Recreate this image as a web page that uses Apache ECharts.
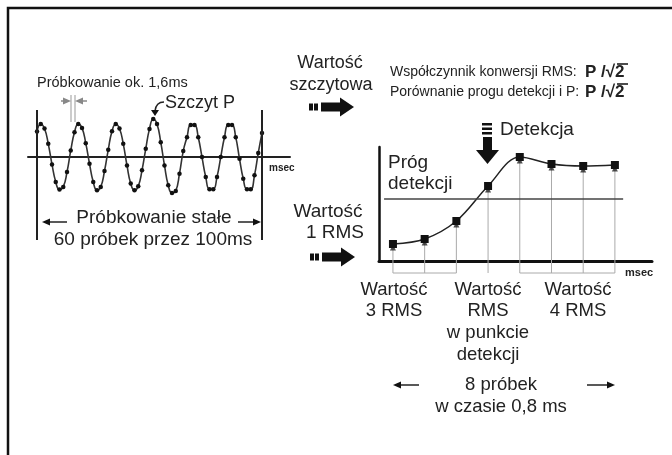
<!DOCTYPE html>
<html>
<head>
<meta charset="utf-8">
<script src="https://cdn.jsdelivr.net/npm/echarts@6/dist/echarts.min.js"></script>
<style>
html,body{margin:0;padding:0;background:#fff}
#main{width:672px;height:455px}
</style>
</head>
<body>
<div id="main"></div>
<script>
// sampled waveform, 60 samples over 100 ms (value relative to peak)
var waveSamples = [
  0.77, 1.0, 0.86, 0.4, -0.22, -0.75, -0.98, -0.9, -0.45, 0.2,
  0.75, 1.0, 0.88, 0.42, -0.2, -0.75, -1.0, -0.9, -0.42, 0.22,
  0.78, 1.0, 0.86, 0.4, -0.25, -0.8, -1.0, -0.88, -0.4, 0.25,
  0.85, 1.15, 1.0, 0.45, -0.25, -0.85, -1.08, -1.02, -0.5, 0.18,
  0.6, 0.97, 0.97, 0.6, 0.0, -0.6, -0.97, -0.97, -0.6, 0.0,
  0.6, 0.97, 0.97, 0.6, -0.05, -0.65, -0.97, -0.97, -0.55, 0.12,
  0.73
];
var sampleWindow = [0, 60];

// RMS values, 8 samples in 0.8 ms
var rmsIndex = [1, 2, 3, 4, 5, 6, 7, 8];
var rmsValues = [17, 22, 40, 75, 104, 97, 95, 96];
var detectLevel = 62;
var rmsGroups = [[1, 3], [5, 8]];
var dropTo = -12;

var FONT = '"Liberation Sans", Arial, sans-serif';
var INK = '#222';

function txt(s, x, y, size, align, bold) {
  return {
    type: 'text', x: x, y: y, silent: true,
    style: {
      text: s, fill: INK,
      font: (bold ? 'bold ' : '') + size + 'px ' + FONT,
      textAlign: align || 'left', textVerticalAlign: 'middle'
    }
  };
}
function ln(x1, y1, x2, y2, w, c) {
  return { type: 'line', silent: true, shape: { x1: x1, y1: y1, x2: x2, y2: y2 },
    style: { stroke: c || INK, lineWidth: w || 1 } };
}
function box(x, y, w, h) {
  return { type: 'rect', silent: true, shape: { x: x, y: y, width: w, height: h }, style: { fill: '#111' } };
}
function tri(pts, c) {
  return { type: 'polygon', silent: true, shape: { points: pts }, style: { fill: c || '#111' } };
}
// dashed fat arrow pointing right
function fatArrow(x, yc) {
  return [
    box(x, yc - 3.5, 4, 7), box(x + 5, yc - 3.5, 4, 7),
    box(x + 12, yc - 4.5, 20, 9),
    tri([[x + 31, yc - 9.5], [x + 45, yc], [x + 31, yc + 9.5]])
  ];
}
// thin arrow, head at x2
function thinArrow(x1, y, x2, c) {
  var d = x2 > x1 ? -1 : 1;
  return [ln(x1, y, x2 + d * 5, y, 1.5, c), tri([[x2, y], [x2 + d * 8, y - 3.5], [x2 + d * 8, y + 3.5]], c)];
}

var g = [];
// frame
g.push({ type: 'polyline', silent: true, shape: { points: [[8, 455], [8, 8], [672, 8]] },
  style: { stroke: '#111', lineWidth: 2.5, fill: null } });

// left block texts
g.push(txt('Próbkowanie ok. 1,6ms', 37, 83, 14.5));
g.push(txt('Szczyt P', 165, 103, 18));
g.push(txt('Próbkowanie stałe', 154, 218, 19, 'center'));
g.push(txt('60 próbek przez 100ms', 153, 240, 19, 'center'));
g.push(txt('msec', 269, 168, 10, 'left', true));
g = g.concat(thinArrow(67, 222, 42));
g = g.concat(thinArrow(238, 222, 261));
// sampling interval marker
g.push(ln(71, 95, 71, 122, 1, '#999'));
g.push(ln(75, 95, 75, 122, 1, '#999'));
g = g.concat(thinArrow(61, 101, 71, '#888'));
g = g.concat(thinArrow(87, 101, 75, '#888'));
// peak pointer
g.push({ type: 'bezierCurve', silent: true,
  shape: { x1: 164, y1: 102, cpx1: 156, cpy1: 102, x2: 155, y2: 111 },
  style: { stroke: INK, lineWidth: 1.5, fill: null } });
g.push(tri([[151, 110], [159, 110], [155, 116]]));

// top right texts
g.push(txt('Wartość', 330, 63, 18, 'center'));
g.push(txt('szczytowa', 331, 85, 18, 'center'));
g = g.concat(fatArrow(309, 107));
g.push(txt('Współczynnik konwersji RMS:', 390, 72, 14));
g.push(txt('Porównanie progu detekcji i P:', 390, 92, 14));
g.push(txt('P /√2', 585, 72, 17, 'left', true));
g.push(txt('P /√2', 585, 92, 17, 'left', true));
g.push(ln(617, 64, 628, 64, 1.5, '#111'));
g.push(ln(617, 84, 628, 84, 1.5, '#111'));

// detection arrow
g.push(box(482, 123, 10, 2.5));
g.push(box(482, 127.5, 10, 2.5));
g.push(box(482, 132, 10, 2.5));
g.push(box(483, 137, 9, 14));
g.push(tri([[476, 150], [499, 150], [487.5, 164]]));
g.push(txt('Detekcja', 500, 130, 19));

// right chart texts
g.push(txt('Próg', 388, 163, 19));
g.push(txt('detekcji', 388, 184, 19));
g.push(txt('Wartość', 328, 212, 19, 'center'));
g.push(txt('1 RMS', 335, 233, 19, 'center'));
g = g.concat(fatArrow(310, 257));
g.push(txt('msec', 625, 273, 11, 'left', true));

g.push(txt('Wartość', 394, 290, 18.5, 'center'));
g.push(txt('3 RMS', 394, 311, 18.5, 'center'));
g.push(txt('Wartość', 488, 290, 18.5, 'center'));
g.push(txt('RMS', 488, 311, 18.5, 'center'));
g.push(txt('w punkcie', 488, 333, 18.5, 'center'));
g.push(txt('detekcji', 488, 355, 18.5, 'center'));
g.push(txt('Wartość', 578, 290, 18.5, 'center'));
g.push(txt('4 RMS', 578, 311, 18.5, 'center'));
g.push(txt('8 próbek', 501, 385, 18.5, 'center'));
g.push(txt('w czasie 0,8 ms', 501, 407, 18.5, 'center'));
g = g.concat(thinArrow(419, 385, 393));
g = g.concat(thinArrow(587, 385, 615));

var hidden = { axisTick: { show: false }, axisLabel: { show: false }, splitLine: { show: false } };
function ax(o) { for (var k in hidden) o[k] = hidden[k]; return o; }

var myChart = echarts.init(document.getElementById('main'));
var option = {
  backgroundColor: '#ffffff',
  animation: false,
  grid: [
    { left: 28, top: 110, width: 262, height: 130 },
    { left: 379, top: 147, width: 273, height: 114 }
  ],
  xAxis: [
    ax({ gridIndex: 0, type: 'value', min: -2.4, max: 67.47,
      axisLine: { show: true, onZero: true, lineStyle: { color: '#222', width: 2 } } }),
    ax({ gridIndex: 1, type: 'value', min: 0.56, max: 9.17,
      axisLine: { show: true, onZero: false, lineStyle: { color: '#111', width: 3 } } })
  ],
  yAxis: [
    ax({ gridIndex: 0, type: 'value', min: -2.5, max: 1.42, axisLine: { show: false } }),
    ax({ gridIndex: 1, type: 'value', min: 0, max: 114,
      axisLine: { show: true, lineStyle: { color: '#111', width: 2.5 } } })
  ],
  series: [
    {
      type: 'line', xAxisIndex: 0, yAxisIndex: 0,
      data: waveSamples.map(function (v, i) { return [i, v]; }),
      smooth: 0.5, symbol: 'circle', symbolSize: 4.5, showSymbol: true,
      itemStyle: { color: '#111' }, lineStyle: { color: '#333', width: 1.6 },
      markLine: {
        silent: true, symbol: ['none', 'none'], label: { show: false },
        lineStyle: { color: '#222', width: 2, type: 'solid' },
        data: sampleWindow.map(function (v) { return { xAxis: v }; })
      }
    },
    {
      type: 'custom', xAxisIndex: 1, yAxisIndex: 1, clip: false, silent: true, z: 1,
      data: rmsIndex.map(function (x, i) { return [x, rmsValues[i]]; }),
      renderItem: function (params, api) {
        var a = api.coord([api.value(0), api.value(1)]);
        var b = api.coord([api.value(0), dropTo]);
        return { type: 'line', shape: { x1: a[0], y1: a[1], x2: b[0], y2: b[1] },
          style: { stroke: '#aaa', lineWidth: 1 } };
      }
    },
    {
      type: 'custom', xAxisIndex: 1, yAxisIndex: 1, clip: false, silent: true, z: 1,
      data: rmsGroups,
      renderItem: function (params, api) {
        var a = api.coord([api.value(0), dropTo]);
        var b = api.coord([api.value(1), dropTo]);
        return { type: 'line', shape: { x1: a[0], y1: a[1], x2: b[0], y2: b[1] },
          style: { stroke: '#aaa', lineWidth: 1 } };
      }
    },
    {
      type: 'scatter', xAxisIndex: 1, yAxisIndex: 1, z: 3,
      data: rmsIndex.map(function (x, i) { return [x, rmsValues[i]]; }),
      symbol: 'triangle', symbolSize: 6, symbolOffset: [0, 3.5],
      itemStyle: { color: '#222' }
    },
    {
      type: 'line', xAxisIndex: 1, yAxisIndex: 1, z: 4,
      data: rmsIndex.map(function (x, i) { return [x, rmsValues[i]]; }),
      smooth: 0.35, symbol: 'rect', symbolSize: 8,
      itemStyle: { color: '#111' }, lineStyle: { color: '#222', width: 1.5 },
      markLine: {
        silent: true, symbol: ['none', 'none'], label: { show: false },
        lineStyle: { color: '#444', width: 1.5, type: 'solid' },
        data: [[{ coord: [0.72, detectLevel] }, { coord: [8.26, detectLevel] }]]
      }
    }
  ],
  graphic: { elements: g }
};
myChart.setOption(option);
window.onresize = myChart.resize;
</script>
</body>
</html>
